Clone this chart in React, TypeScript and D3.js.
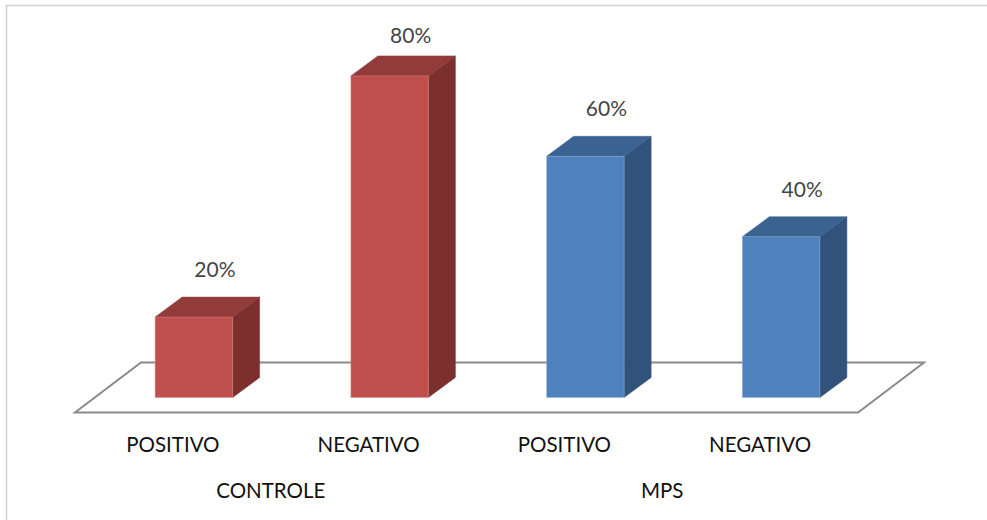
import React from "react";
import * as d3 from "d3";

// Chart data
const groups = ["CONTROLE", "MPS"];
const categories = ["POSITIVO", "NEGATIVO", "POSITIVO", "NEGATIVO"];
const categoryGroup = [0, 0, 1, 1];
const values = [20, 80, 60, 40];
const valueLabels = ["20%", "80%", "60%", "40%"];

const W = 987;
const H = 520;

// palette per group: front, top, side
const palette = [
  { front: "#C0504D", top: "#913C3A", side: "#7B302E", edge: "#D8908E" },
  { front: "#4F81BD", top: "#3B6392", side: "#31527B", edge: "#8FB0D8" },
];

export default function App() {
  // floor geometry
  const floorLeft = 75;
  const floorRight = 858;
  const floorFrontY = 412.5;
  const floorDx = 66;
  const floorDy = -50;

  // bars sit inside the floor depth
  const barFrontDx = 21;
  const barFrontDy = -15;
  const barDx = 27;
  const barDy = -20;
  const barWidth = 77.5;
  const labelDx = 21;

  const keys = categories.map((_, i) => String(i));
  const x = d3.scaleBand<string>().domain(keys).range([floorLeft, floorRight]).padding(0);
  const h = d3.scaleLinear().domain([0, 100]).range([0, 402]);

  const baseY = floorFrontY + barFrontDy;

  const floorPts: [number, number][] = [
    [floorLeft, floorFrontY],
    [floorRight, floorFrontY],
    [floorRight + floorDx, floorFrontY + floorDy],
    [floorLeft + floorDx, floorFrontY + floorDy],
  ];
  const line = d3.line();

  const font = "Lato, 'Open Sans', sans-serif";

  return (
    <svg
      width={W}
      height={H}
      style={{ position: "absolute", left: 0, top: 0, background: "#fff" }}
    >
      <rect x={6.5} y={5.5} width={W + 10} height={H + 10} fill="#fff" stroke="#d0d0d0" strokeWidth={1.5} />
      <path d={line(floorPts)! + "Z"} fill="#fff" stroke="#8a8a8a" strokeWidth={2} />

      {values.map((v, i) => {
        const c = palette[categoryGroup[i]];
        const cx = x(String(i))! + x.bandwidth() / 2 + barFrontDx;
        const x0 = cx - barWidth / 2;
        const x1 = cx + barWidth / 2;
        const top = baseY - h(v);
        const front: [number, number][] = [[x0, baseY], [x1, baseY], [x1, top], [x0, top]];
        const topFace: [number, number][] = [[x0, top], [x1, top], [x1 + barDx, top + barDy], [x0 + barDx, top + barDy]];
        const side: [number, number][] = [[x1, baseY], [x1 + barDx, baseY + barDy], [x1 + barDx, top + barDy], [x1, top]];
        const labelY = Math.max(43, top - 40);
        return (
          <g key={i}>
            <path d={line(side)! + "Z"} fill={c.side} stroke={c.side} strokeWidth={0.5} />
            <path d={line(topFace)! + "Z"} fill={c.top} stroke={c.top} strokeWidth={0.5} />
            <path d={line(front)! + "Z"} fill={c.front} stroke={c.edge} strokeWidth={0.8} strokeOpacity={0.6} />
            <text
              x={cx + labelDx}
              y={labelY}
              textAnchor="middle"
              fontFamily={font}
              fontSize={21}
              fill="#454545"
            >
              {valueLabels[i]}
            </text>
          </g>
        );
      })}

      {categories.map((cat, i) => (
        <text
          key={"c" + i}
          x={x(String(i))! + x.bandwidth() / 2}
          y={452}
          textAnchor="middle"
          fontFamily={font}
          fontSize={20.5}
          fill="#111"
        >
          {cat}
        </text>
      ))}

      {groups.map((g, gi) => {
        const idx = keys.filter((_, i) => categoryGroup[i] === gi);
        const cx = d3.mean(idx, (k) => x(k)! + x.bandwidth() / 2)!;
        return (
          <text
            key={"g" + gi}
            x={cx}
            y={497.5}
            textAnchor="middle"
            fontFamily={font}
            fontSize={20.5}
            fill="#111"
          >
            {g}
          </text>
        );
      })}
    </svg>
  );
}
